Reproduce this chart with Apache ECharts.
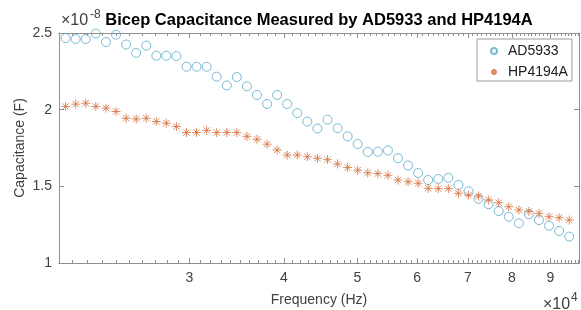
<!DOCTYPE html>
<html lang="en">
<head>
    <meta charset="UTF-8">
    <title>Bicep Capacitance</title>
    <script type="text/javascript" src="https://cdn.jsdelivr.net/npm/echarts@6/dist/echarts.min.js"></script>
    <style>
        html, body { margin: 0; padding: 0; background: #fff; }
        #chart { width: 581px; height: 310px; }
    </style>
</head>
<body>
<div id="chart"></div>
<script type="text/javascript">
    // frequency of each measurement (Hz)
    var freqHz = [20580, 21220, 21880, 22560, 23270, 23990, 24740, 25510, 26300, 27120,
        27960, 28830, 29730, 30650, 31610, 32590, 33610, 34650, 35730, 36840,
        37990, 39170, 40390, 41650, 42940, 44280, 45660, 47080, 48540, 50050,
        51610, 53220, 54870, 56580, 58340, 60160, 62030, 63960, 65950, 68000,
        70120, 72300, 74550, 76870, 79260, 81730, 84270, 86900, 89600, 92390,
        95260, 98230];
    // capacitance, in units of 1e-8 F
    var ad5933Cap = [2.467, 2.461, 2.461, 2.497, 2.441, 2.489, 2.425, 2.370, 2.418, 2.352,
        2.352, 2.350, 2.280, 2.280, 2.280, 2.215, 2.158, 2.213, 2.152, 2.096,
        2.037, 2.096, 2.037, 1.978, 1.922, 1.877, 1.935, 1.879, 1.826, 1.776,
        1.724, 1.726, 1.734, 1.683, 1.636, 1.587, 1.541, 1.548, 1.556, 1.509,
        1.468, 1.419, 1.383, 1.339, 1.302, 1.259, 1.318, 1.280, 1.243, 1.209,
        1.172, 1.139];
    var hp4194aCap = [2.021, 2.036, 2.042, 2.021, 2.010, 1.988, 1.944, 1.939, 1.944, 1.923,
        1.912, 1.890, 1.851, 1.851, 1.865, 1.851, 1.851, 1.851, 1.826, 1.807,
        1.775, 1.737, 1.704, 1.704, 1.693, 1.683, 1.674, 1.646, 1.623, 1.605,
        1.588, 1.583, 1.572, 1.541, 1.530, 1.520, 1.487, 1.485, 1.485, 1.455,
        1.443, 1.436, 1.411, 1.393, 1.367, 1.346, 1.337, 1.324, 1.302, 1.295,
        1.280, 1.254];
    var xMajorTicks = [30000, 40000, 50000, 60000, 70000, 80000, 90000];
    var xMin = 20170, xMax = 98150;

    var xMinorTicks = [];
    for (var t = 21000; t < xMax; t += 1000) {
        xMinorTicks.push(t);
    }

    var FONT = 'Liberation Sans, Arial, Helvetica, sans-serif';
    var TEXT = '#404040';
    var LINE = '#8f8f8f';
    var BLUE = '#58A9C9';
    var ORANGE = '#D4703F';
    var STAR = 'path://M5,0L5,10M0,5L10,5M1.5,1.5L8.5,8.5M1.5,8.5L8.5,1.5';

    function pairs(ys) {
        var out = [];
        for (var i = 0; i < freqHz.length; i++) {
            out.push([freqHz[i], ys[i]]);
        }
        return out;
    }

    function xAxisOf(pos, ticks, len, labels) {
        return {
            type: 'log',
            position: pos,
            min: xMin,
            max: xMax,
            axisLine: {show: true, lineStyle: {color: LINE, width: 1}},
            axisTick: {show: true, inside: true, length: len, customValues: ticks,
                lineStyle: {color: LINE, width: 1}},
            axisLabel: labels ? {
                show: true, customValues: xMajorTicks, margin: 8,
                color: TEXT, fontSize: 14, fontFamily: FONT,
                formatter: function (v) { return String(Math.round(v / 10000)); }
            } : {show: false},
            splitLine: {show: false},
            minorTick: {show: false}
        };
    }

    function yAxisOf(pos, labels) {
        return {
            type: 'value',
            position: pos,
            min: 1,
            max: 2.5,
            interval: 0.5,
            axisLine: {show: true, lineStyle: {color: LINE, width: 1}},
            axisTick: {show: true, inside: true, length: 5, lineStyle: {color: LINE, width: 1}},
            axisLabel: labels ? {
                show: true, margin: 7, color: TEXT, fontSize: 14, fontFamily: FONT,
                formatter: function (v) { return String(Math.round(v * 10) / 10); }
            } : {show: false},
            splitLine: {show: false}
        };
    }

    var myChart = echarts.init(document.getElementById('chart'), null, {renderer: 'canvas'});
    var option = {
        animation: false,
        backgroundColor: '#fff',
        grid: {left: 59, right: 2, top: 33, bottom: 47, containLabel: false, outerBoundsMode: 'none'},
        xAxis: [
            xAxisOf('bottom', xMajorTicks, 5, true),
            xAxisOf('bottom', xMinorTicks, 3, false),
            xAxisOf('top', xMajorTicks, 5, false),
            xAxisOf('top', xMinorTicks, 3, false)
        ],
        yAxis: [
            yAxisOf('left', true),
            yAxisOf('right', false)
        ],
        legend: {
            orient: 'vertical',
            left: 477,
            top: 39,
            padding: [5, 4, 2, 13],
            itemWidth: 18,
            itemHeight: 6,
            itemGap: 7,
            backgroundColor: '#fff',
            borderColor: '#9a9a9a',
            borderWidth: 1,
            textStyle: {color: '#202020', fontSize: 14, fontFamily: FONT, lineHeight: 14},
            data: ['AD5933', 'HP4194A']
        },
        graphic: [
            {type: 'text', x: 319, y: 20, style: {text: 'Bicep Capacitance Measured by AD5933 and HP4194A',
                font: 'bold 16.5px ' + FONT, fill: '#000', textAlign: 'center', textVerticalAlign: 'middle'}},
            {type: 'text', x: 61, y: 21, style: {text: '\u00d710', font: '16px ' + FONT, fill: TEXT,
                textAlign: 'left', textVerticalAlign: 'middle'}},
            {type: 'text', x: 90, y: 15, style: {text: '-8', font: '12px ' + FONT, fill: TEXT,
                textAlign: 'left', textVerticalAlign: 'middle'}},
            {type: 'text', x: 543, y: 305, style: {text: '\u00d710', font: '16px ' + FONT, fill: TEXT,
                textAlign: 'left', textVerticalAlign: 'middle'}},
            {type: 'text', x: 571, y: 298, style: {text: '4', font: '12px ' + FONT, fill: TEXT,
                textAlign: 'left', textVerticalAlign: 'middle'}},
            {type: 'text', x: 319, y: 300, style: {text: 'Frequency (Hz)', font: '14px ' + FONT, fill: TEXT,
                textAlign: 'center', textVerticalAlign: 'middle'}},
            {type: 'text', x: 20, y: 148, rotation: Math.PI / 2, style: {text: 'Capacitance (F)',
                font: '14px ' + FONT, fill: TEXT, textAlign: 'center', textVerticalAlign: 'middle'}}
        ],
        series: [
            {
                name: 'AD5933',
                type: 'scatter',
                xAxisIndex: 0,
                yAxisIndex: 0,
                symbol: 'circle',
                symbolSize: 9,
                itemStyle: {color: 'rgba(0,0,0,0)', borderColor: BLUE, borderWidth: 1},
                data: pairs(ad5933Cap)
            },
            {
                name: 'HP4194A',
                type: 'scatter',
                xAxisIndex: 0,
                yAxisIndex: 0,
                symbol: STAR,
                symbolSize: 9,
                itemStyle: {color: 'rgba(0,0,0,0)', borderColor: ORANGE, borderWidth: 1},
                data: pairs(hp4194aCap)
            }
        ]
    };
    myChart.setOption(option);
</script>
</body>
</html>
